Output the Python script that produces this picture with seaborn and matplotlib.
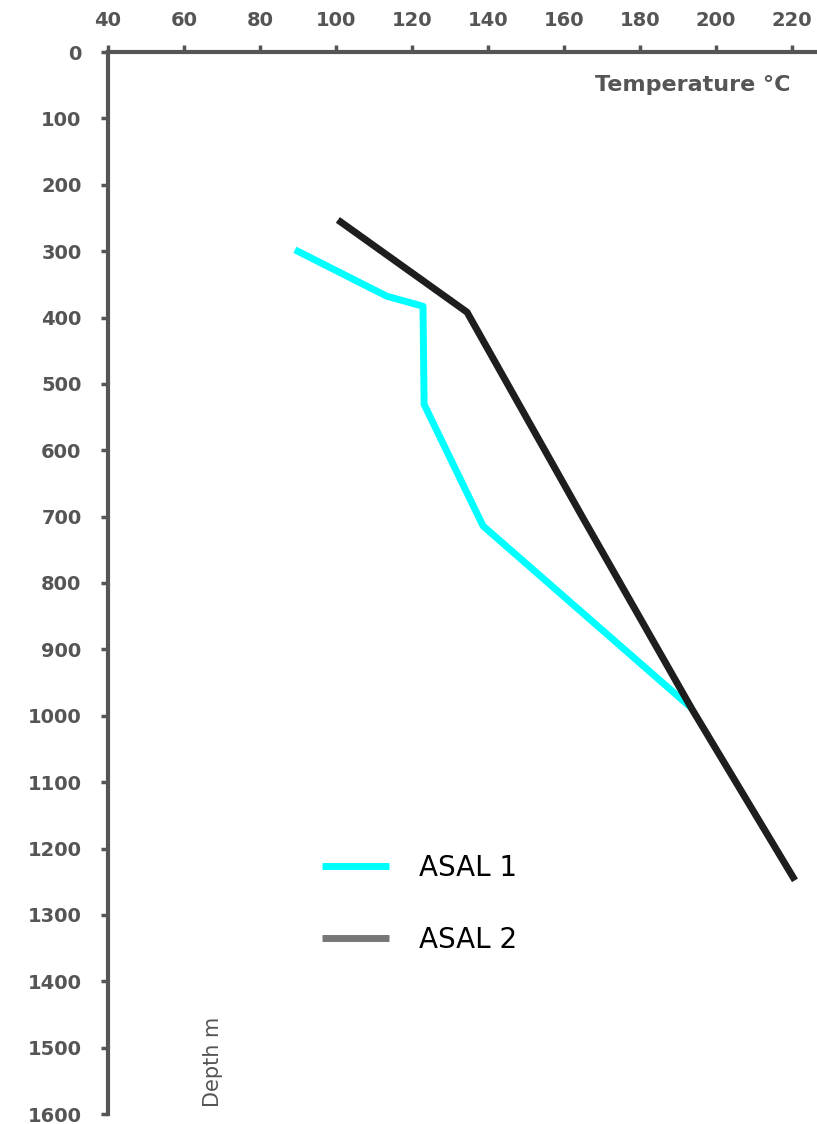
import pandas as pd
import seaborn as sns
import matplotlib.pyplot as plt
from matplotlib.lines import Line2D

# temperature (°C) vs depth (m) read from the profile
asal1_temp = [89.2, 113.4, 122.9, 123.2, 138.7, 193.7]
asal1_depth = [298, 368, 383, 531, 714, 989]
asal2_temp = [100.5, 134.5, 165.0, 193.7, 220.8]
asal2_depth = [253, 392, 702, 990, 1248]

x_ticks = [40, 60, 80, 100, 120, 140, 160, 180, 200, 220]
y_ticks = list(range(0, 1700, 100))

df = pd.concat([
    pd.DataFrame({'temp': asal1_temp, 'depth': asal1_depth, 'well': 'ASAL 1'}),
    pd.DataFrame({'temp': asal2_temp, 'depth': asal2_depth, 'well': 'ASAL 2'}),
])

sns.set_style('white')
plt.rcParams['font.family'] = ['DejaVu Sans']

axis_col = '#555555'
fig = plt.figure(figsize=(8.17, 11.24), dpi=100)
ax = fig.add_axes([108 / 817, 10 / 1124, 709 / 817, 1062 / 1124])

sns.lineplot(data=df, x='temp', y='depth', hue='well', sort=False,
             palette={'ASAL 1': '#00ffff', 'ASAL 2': '#1e1e1e'},
             linewidth=5, legend=False, ax=ax, solid_capstyle='butt')

ax.set_xlim(40, 226.6)
ax.set_ylim(1600, 0)
ax.xaxis.tick_top()
ax.set_xticks(x_ticks)
ax.set_yticks(y_ticks)
ax.set_xlabel('')
ax.set_ylabel('')

for side in ['right', 'bottom']:
    ax.spines[side].set_visible(False)
for side in ['left', 'top']:
    ax.spines[side].set_color(axis_col)
    ax.spines[side].set_linewidth(3)

ax.tick_params(axis='x', top=True, bottom=False, direction='out', length=5,
               width=2.5, color=axis_col, labelcolor=axis_col, labelsize=14, pad=11)
ax.tick_params(axis='y', left=True, direction='out', length=5,
               width=2.5, color=axis_col, labelcolor=axis_col, labelsize=14, pad=14)
for lab in ax.get_xticklabels() + ax.get_yticklabels():
    lab.set_fontweight('bold')

ax.text(0.962, 0.969, 'Temperature °C', transform=ax.transAxes, ha='right', va='center',
        fontsize=16, fontweight='bold', color=axis_col)
ax.text(0.148, 0.049, 'Depth m', transform=ax.transAxes, ha='center', va='center',
        rotation=90, fontsize=15, color=axis_col)

handles = [Line2D([], [], color='#00ffff', linewidth=5, solid_capstyle='butt'),
           Line2D([], [], color='#777777', linewidth=5, solid_capstyle='butt')]
leg = ax.legend(handles, ['ASAL 1', 'ASAL 2'], loc='center left', bbox_to_anchor=(0.302, 0.198),
                frameon=False, fontsize=20, handlelength=2.4, handletextpad=1.1,
                labelspacing=1.6, borderpad=0, borderaxespad=0)
for t in leg.get_texts():
    t.set_color('black')

plt.savefig('out.png', dpi=100)
